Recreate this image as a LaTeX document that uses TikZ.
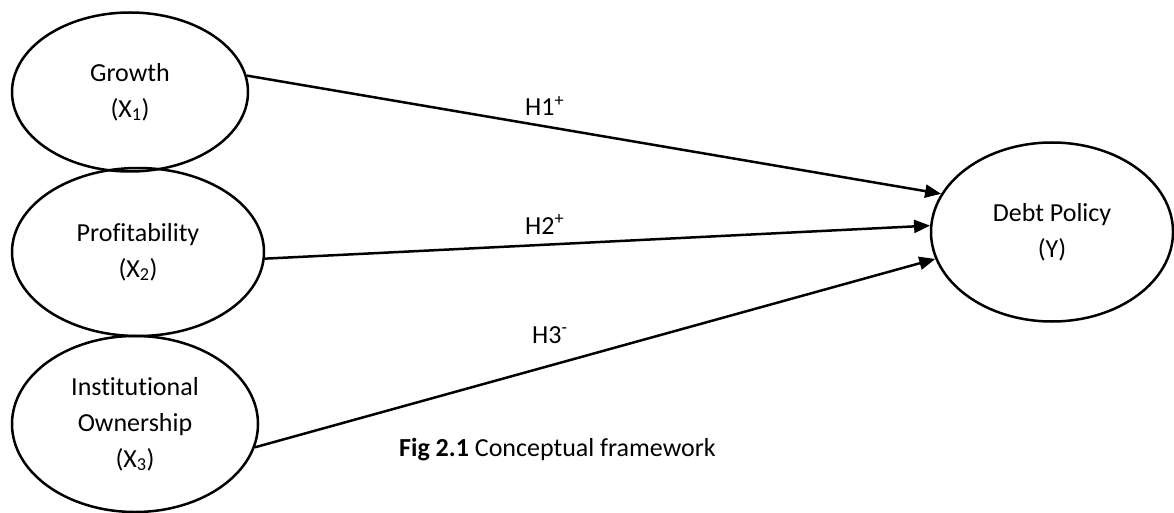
\documentclass[tikz,border=0pt]{standalone}
\usepackage{fontspec}
\setmainfont{Carlito}[Ligatures=NoCommon]
\usetikzlibrary{shapes.geometric,arrows.meta}

\begin{document}
\begin{tikzpicture}[x=1pt,y=-1pt]
        \tikzset{var/.style={draw,ellipse,line width=2.5pt,inner sep=0pt,align=center,
                font=\fontsize{26}{36}\selectfont},
            link/.style={line width=2.5pt,-{Triangle[length=16pt,width=13pt]}},
            hyp/.style={anchor=base west,inner sep=0pt,font=\fontsize{26}{36}\selectfont}}
        \useasboundingbox (0,0) rectangle (1174,513);
        % variables
        \node[var,minimum width=236pt,minimum height=159pt] (growth) at (130,92)
            {Growth\\(X\textsubscript{1})};
        \node[var,minimum width=252pt,minimum height=168pt] (profit) at (138,252)
            {Profitability\\(X\textsubscript{2})};
        \node[var,minimum width=246pt,minimum height=176pt] (inst) at (135,424)
            {Institutional\\Ownership\\(X\textsubscript{3})};
        \node[var,minimum width=242pt,minimum height=179pt] (debt) at (1052,232)
            {Debt Policy\\(Y)};
        % hypotheses
        \draw[link] (growth.8) -- (debt.161);
        \draw[link] (profit.-3) -- (debt.177);
        \draw[link] (inst.-11) -- (debt.193);
        \node[hyp] (h1) at (525,116) {H1\textsuperscript{+}};
        \node[hyp] (h2) at (525,234) {H2\textsuperscript{+}};
        \node[hyp] (h3) at (532,343) {H3\textsuperscript{-}};
        \node[hyp] (caption) at (399,456) {\textbf{Fig 2.1} Conceptual framework};
\end{tikzpicture}
\end{document}
